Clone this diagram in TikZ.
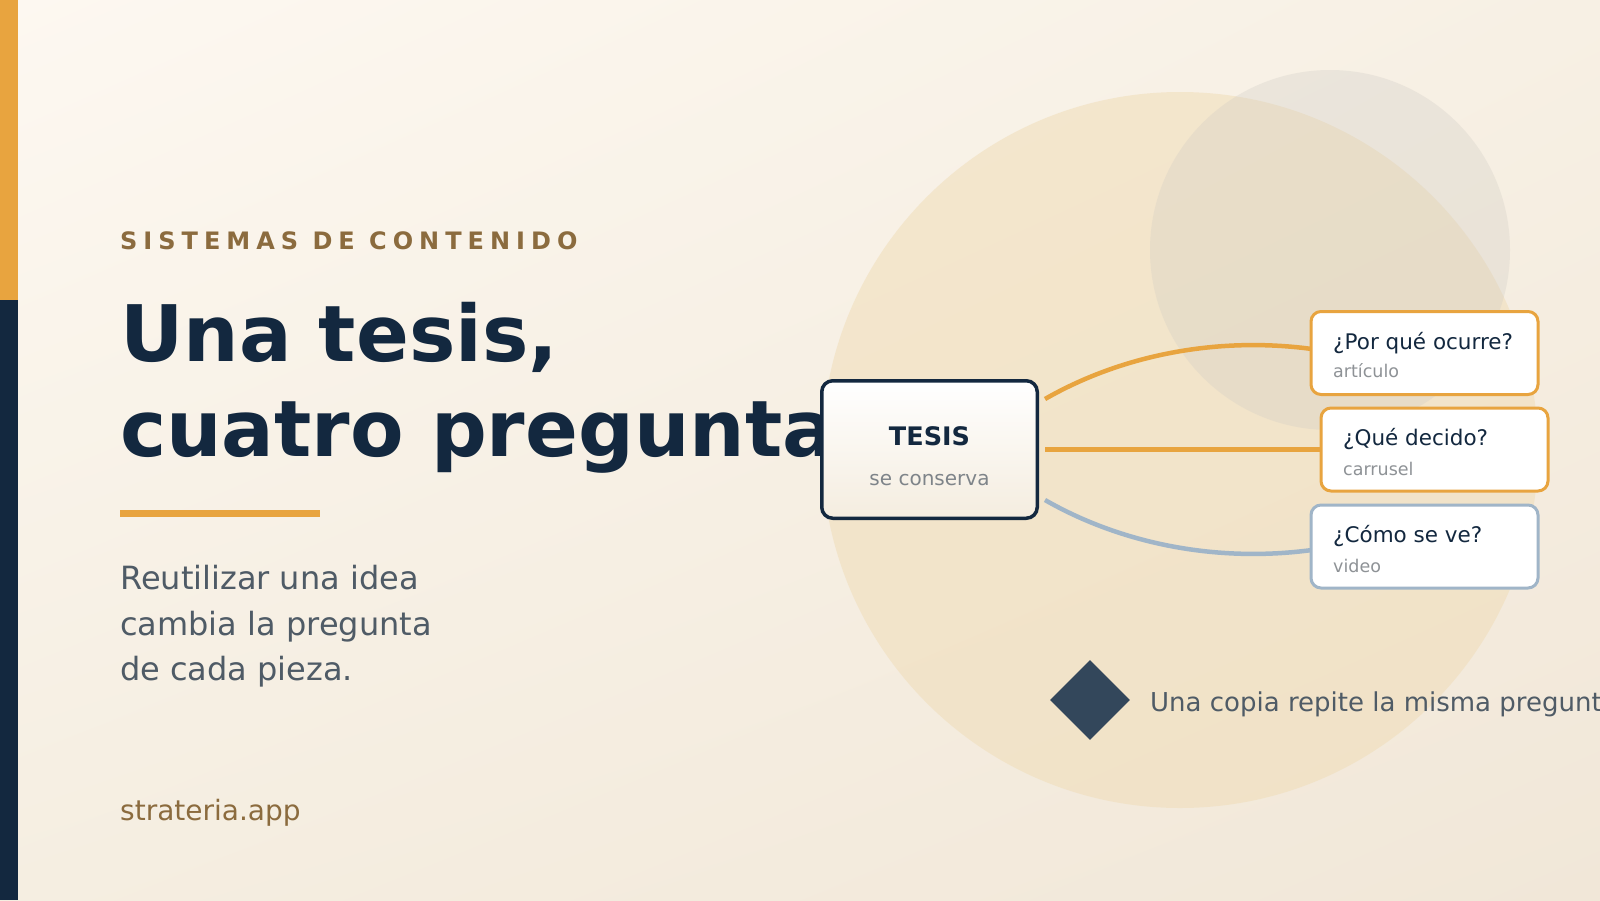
\documentclass[tikz,border=0pt]{standalone}
\usepackage{fontspec}
\setmainfont{DejaVu Sans}
\usetikzlibrary{shapes.geometric,shadings}
\definecolor{navy}{HTML}{13283F}
\definecolor{accent}{HTML}{E8A43F}
\definecolor{brownt}{HTML}{8B6B3E}
\definecolor{slate}{HTML}{4F5B66}
\definecolor{bluel}{HTML}{A0B5C8}
\definecolor{greyt}{HTML}{7E8489}
\definecolor{greys}{HTML}{8E9296}
\definecolor{diam}{HTML}{33475B}
\definecolor{bgA}{HTML}{FDF8F1}
\definecolor{bgB}{HTML}{F7F0E4}
\definecolor{bgC}{HTML}{F5EEE1}
\definecolor{bgD}{HTML}{F1E7D8}
\definecolor{bigc}{HTML}{F0DDB8}
\definecolor{grayc}{HTML}{CFCBC4}
\begin{document}
\begin{tikzpicture}[x=1pt,y=-1pt,
  txt/.style={anchor=base west, inner sep=0pt},
  qbox/.style={draw, line width=3pt, rounded corners=10pt, fill=white,
     minimum width=227pt, minimum height=83pt, inner sep=0pt},
  qtitle/.style={txt, text=navy, font=\fontsize{21.5}{26}\selectfont},
  qsub/.style={txt, text=greys, font=\fontsize{17.5}{21}\selectfont},
  conn/.style={line width=4.5pt},
  tesisbox/.style={draw=navy, line width=3.5pt, rounded corners=11pt,
     top color=white, bottom color=bgC!80!bgD, minimum width=215.5pt,
     minimum height=137.5pt, inner sep=0pt}]
\useasboundingbox (0,0) rectangle (1600,900);
\clip (0,0) rectangle (1600,900);
% background
\shade[upper left=bgA, upper right=bgB, lower left=bgC, lower right=bgD] (0,0) rectangle (1600,900);
\fill[bigc, opacity=0.55] (1180,450) circle[radius=358pt];
\fill[grayc, opacity=0.30] (1330,250) circle[radius=180pt];
% side bar
\fill[accent] (0,0) rectangle (18,300);
\fill[navy] (0,300) rectangle (18,900);
% left texts
\node[txt, text=brownt, font=\bfseries\fontsize{24}{28}\selectfont\addfontfeature{LetterSpace=25}] (kicker) at (120,249) {SISTEMAS DE CONTENIDO};
\node[txt, text=navy, font=\bfseries\fontsize{78}{95}\selectfont] (title1) at (120,361) {Una tesis,};
\node[txt, text=navy, font=\bfseries\fontsize{78}{95}\selectfont] (title2) at (120,456) {cuatro preguntas};
\fill[accent] (120,510) rectangle (320,517);
\node[txt, text=slate, font=\fontsize{32}{45}\selectfont] (sub1) at (120,589) {Reutilizar una idea};
\node[txt, text=slate, font=\fontsize{32}{45}\selectfont] (sub2) at (120,635) {cambia la pregunta};
\node[txt, text=slate, font=\fontsize{32}{45}\selectfont] (sub3) at (120,680) {de cada pieza.};
\node[txt, text=brownt, font=\fontsize{28}{32}\selectfont] (site) at (120,820) {strateria.app};
% nodes
\node[tesisbox] (tesis) at (929.5,449.5) {};
\node[anchor=base, inner sep=0pt, text=navy, font=\bfseries\fontsize{25.5}{30}\selectfont] (tesisT) at (929.5,445) {TESIS};
\node[anchor=base, inner sep=0pt, text=greyt, font=\fontsize{20}{24}\selectfont] (tesisS) at (929.5,485) {se conserva};
\coordinate (q1) at (1424.5,353);
\coordinate (q2) at (1434.5,449.5);
\coordinate (q3) at (1424.5,546.5);
% connectors (drawn before the boxes)
\draw[conn, accent] ([shift={(6,-50.5)}]tesis.east) .. controls (1120,356) and (1215,336) .. (1312,349);
\draw[conn, accent] ([xshift=6pt]tesis.east) -- (1322,449.5);
\draw[conn, bluel] ([shift={(6,50.5)}]tesis.east) .. controls (1120,543) and (1215,563) .. (1312,550);
% boxes
\node[qbox, draw=accent] (box1) at (q1) {};
\node[qbox, draw=accent] (box2) at (q2) {};
\node[qbox, draw=bluel] (box3) at (q3) {};
\node[qtitle] (q1t) at (1333,349) {¿Por qué ocurre?};
\node[qsub] (q1s) at (1333,377) {artículo};
\node[qtitle] (q2t) at (1343,445) {¿Qué decido?};
\node[qsub] (q2s) at (1343,475) {carrusel};
\node[qtitle] (q3t) at (1333,542) {¿Cómo se ve?};
\node[qsub] (q3s) at (1333,572) {video};
% note
\node[diamond, fill=diam, minimum width=80pt, minimum height=80pt, inner sep=0pt] (dia) at (1090,700) {};
\node[txt, text=slate, font=\fontsize{26}{30}\selectfont] (note) at (1150,711) {Una copia repite la misma pregunta.};
\end{tikzpicture}
\end{document}
